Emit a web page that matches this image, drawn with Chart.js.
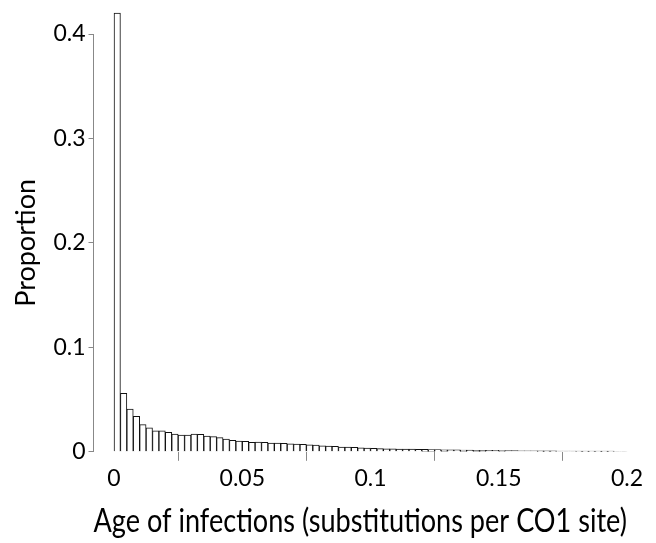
<!DOCTYPE html>
<html>
<head>
<meta charset="utf-8">
<script src="https://cdn.jsdelivr.net/npm/chart.js@4"></script>
<style>
  html, body { margin: 0; padding: 0; background: #fff; }
  #wrap { width: 656px; height: 543px; position: relative; }
</style>
</head>
<body>
<div id="wrap"><canvas id="histChart"></canvas></div>
<script>
// histogram bins of width 0.0025, left edges from 0 to 0.1975
const binWidth = 0.0025;
const binStarts = [
    0, 0.0025, 0.005, 0.0075, 0.01, 0.0125, 0.015, 0.0175, 0.02, 0.0225,
    0.025, 0.0275, 0.03, 0.0325, 0.035, 0.0375, 0.04, 0.0425, 0.045, 0.0475,
    0.05, 0.0525, 0.055, 0.0575, 0.06, 0.0625, 0.065, 0.0675, 0.07, 0.0725,
    0.075, 0.0775, 0.08, 0.0825, 0.085, 0.0875, 0.09, 0.0925, 0.095, 0.0975,
    0.1, 0.1025, 0.105, 0.1075, 0.11, 0.1125, 0.115, 0.1175, 0.12, 0.1225,
    0.125, 0.1275, 0.13, 0.1325, 0.135, 0.1375, 0.14, 0.1425, 0.145, 0.1475,
    0.15, 0.1525, 0.155, 0.1575, 0.16, 0.1625, 0.165, 0.1675, 0.17, 0.1725,
    0.175, 0.1775, 0.18, 0.1825, 0.185, 0.1875, 0.19, 0.1925, 0.195, 0.1975
];
const proportions = [
    0.42, 0.056, 0.041, 0.034, 0.026, 0.023, 0.020, 0.020, 0.0186, 0.017,
    0.016, 0.016, 0.017, 0.0167, 0.015, 0.0145, 0.0135, 0.0122, 0.011, 0.0103,
    0.010, 0.009, 0.0093, 0.009, 0.0084, 0.0084, 0.008, 0.0077, 0.0074, 0.0072,
    0.0066, 0.0064, 0.0056, 0.0054, 0.0052, 0.0046, 0.0044, 0.0042, 0.0037, 0.0035,
    0.0033, 0.003, 0.0029, 0.0028, 0.0027, 0.0026, 0.0025, 0.0024, 0.0023, 0.0022,
    0.0021, 0.002, 0.0019, 0.0018, 0.0017, 0.0016, 0.0015, 0.0014, 0.0013, 0.0013,
    0.0012, 0.0011, 0.0011, 0.001, 0.001, 0.001, 0.0009, 0.0009, 0.0009, 0.0008,
    0.0008, 0.0008, 0.0007, 0.0007, 0.0007, 0.0006, 0.0006, 0.0006, 0.0005, 0.0005
];
const xTicks = [0, 0.05, 0.1, 0.15, 0.2];
const yTicks = [0, 0.1, 0.2, 0.3, 0.4];

const xTitle = "Age of infections (substitutions per CO1 site)";
const yTitle = "Proportion";

const fontFamily = "Lato, 'Open Sans', sans-serif";

new Chart(
    document.getElementById("histChart"),
    {
        type: "bar",
        data: {
            datasets: [{
                data: binStarts.map((x, i) => ({
                    x: x + binWidth / 2,
                    y: proportions[i]
                })),
                backgroundColor: "#ffffff",
                borderColor: "#111111",
                borderWidth: 1,
                barPercentage: 1,
                categoryPercentage: 1,
                clip: false
            }]
        },
        options: {
            responsive: true,
            maintainAspectRatio: false,
            animation: false,
            layout: {
                padding: { top: 34, right: 29, left: 10, bottom: 2 }
            },
            plugins: {
                legend: { display: false },
                tooltip: { enabled: false }
            },
            scales: {
                x: {
                    type: "linear",
                    min: -0.008,
                    max: 0.2,
                    offset: false,
                    afterBuildTicks: axis => {
                        axis.ticks = xTicks.map(v => ({ value: v }));
                    },
                    ticks: {
                        color: "#000",
                        font: { family: fontFamily, size: 23 },
                        padding: 4,
                        maxRotation: 0,
                        callback: v => String(v)
                    },
                    grid: {
                        drawOnChartArea: false,
                        drawTicks: true,
                        tickLength: 9,
                        color: "#888"
                    },
                    border: { display: false },
                    title: {
                        display: true,
                        text: xTitle,
                        color: "#000",
                        font: { family: fontFamily, size: 33 },
                        padding: { top: 5, bottom: 0 }
                    }
                },
                y: {
                    min: 0,
                    max: 0.4,
                    afterBuildTicks: axis => {
                        axis.ticks = yTicks.map(v => ({ value: v }));
                    },
                    ticks: {
                        color: "#000",
                        font: { family: fontFamily, size: 23 },
                        padding: 3,
                        callback: v => String(v)
                    },
                    grid: {
                        drawOnChartArea: false,
                        drawTicks: true,
                        tickLength: 5,
                        color: "#888"
                    },
                    border: { display: true, color: "#888", width: 1 },
                    title: {
                        display: true,
                        text: yTitle,
                        color: "#000",
                        font: { family: fontFamily, size: 27 },
                        padding: { top: 0, bottom: 8 }
                    }
                }
            }
        }
    }
);
</script>
</body>
</html>
